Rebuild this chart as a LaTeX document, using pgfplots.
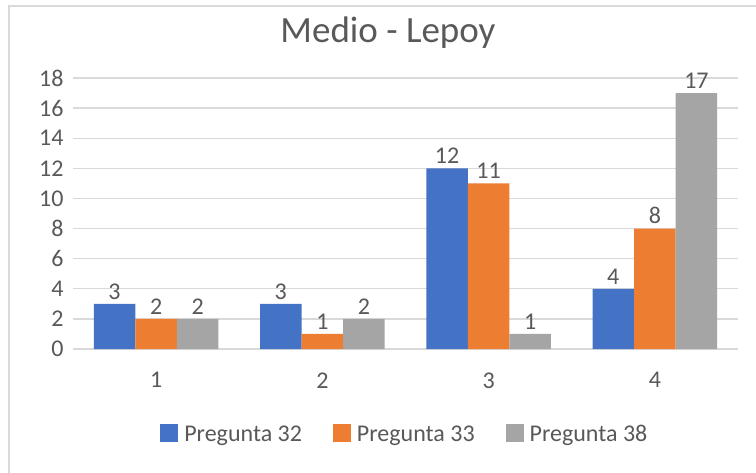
\documentclass[border=0pt]{standalone}
\usepackage{fontspec}
\setmainfont{Carlito}
\usepackage{pgfplots}
\pgfplotsset{compat=1.18}

\definecolor{c32}{HTML}{4472C4}
\definecolor{c33}{HTML}{ED7D31}
\definecolor{c38}{HTML}{A5A5A5}
\definecolor{txt}{HTML}{595959}
\definecolor{gridc}{HTML}{D9D9D9}

\begin{document}
\begin{tikzpicture}
\useasboundingbox (0pt,0pt) rectangle (756pt,472pt);
\fill[white] (0pt,0pt) rectangle (756pt,472pt);
\draw[gridc, line width=1.2pt] (9pt,-10pt) -- (9pt,466pt) -- (770pt,466pt);
\node[anchor=base, text=txt, font=\fontsize{37}{44}\selectfont] at (388pt,429pt) {Medio - Lepoy};

\begin{axis}[
    at={(73pt,123pt)}, anchor=south west,
    scale only axis,
    width=665pt, height=271pt,
    ybar=0pt, bar width=0.25,
    xmin=0.5, xmax=4.5,
    ymin=0, ymax=18,
    xtick={1,2,3,4},
    ytick={0,2,...,18},
    major tick length=0pt,
    axis line style={draw=none},
    ymajorgrids=true, xmajorgrids=false,
    grid style={gridc, line width=1.3pt},
    /pgf/number format/assume math mode=true,
    tick label style={text=txt, font=\fontsize{24}{28}\selectfont},
    yticklabel style={xshift=-6pt},
    xticklabel style={yshift=-20pt},
    nodes near coords,
    every node near coord/.append style={text=txt, font=\fontsize{24}{28}\selectfont, yshift=1pt},
    legend columns=3,
    legend style={at={(0.499,-0.314)}, anchor=center, draw=none, fill=none,
        text=txt, font=\fontsize{24}{28}\selectfont,
        /tikz/every odd column/.append style={column sep=4pt},
        /tikz/every even column/.append style={column sep=29pt}},
    legend image code/.code={\fill[#1] (0pt,-8pt) rectangle (18pt,10pt);},
]
\addplot[fill=c32, draw=none] coordinates {(1,3) (2,3) (3,12) (4,4)};
\addplot[fill=c33, draw=none] coordinates {(1,2) (2,1) (3,11) (4,8)};
\addplot[fill=c38, draw=none] coordinates {(1,2) (2,2) (3,1) (4,17)};
\legend{Pregunta 32, Pregunta 33, Pregunta 38}
\end{axis}
\end{tikzpicture}
\end{document}
